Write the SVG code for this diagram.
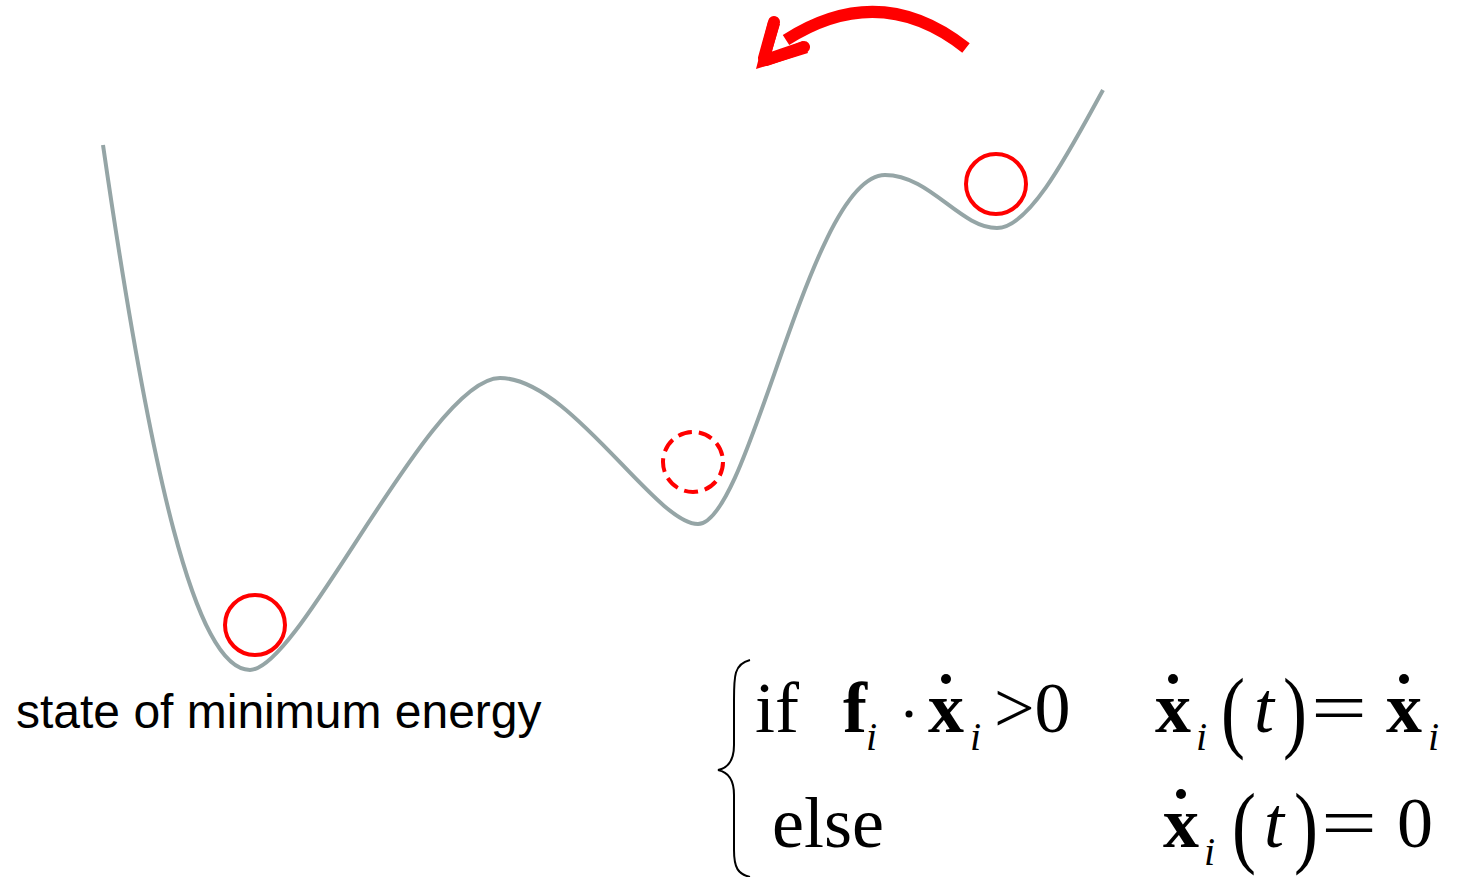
<svg xmlns="http://www.w3.org/2000/svg" width="1458" height="877" viewBox="0 0 1458 877">
<style>
.curve{fill:none;stroke:#95A5A6;stroke-width:4}
.ball{fill:none;stroke:#FF0000;stroke-width:4}
.dash{stroke-dasharray:14 7}
.lbl{font-family:"Liberation Sans",Arial,sans-serif;font-size:48px;fill:#000}
.m{font-family:"Liberation Serif","Times New Roman",serif;font-size:72px;fill:#000}
.b{font-weight:bold}
.it{font-style:italic}
.sub{font-size:40px}
.dot{fill:#000}
</style>
<rect width="1458" height="877" fill="#fff"/>
<g id="landscape">
<path class="curve" d="M103,145 C150,470 195,670 250,670 C300,670 430,378 500,378 C570,378 655,524 698,524 C750,524 810,175 885,175 C930,175 960,228 997,228 C1030,228 1070,150 1103,90"/>
</g>
<g id="ball-min"><circle class="ball" cx="255" cy="625" r="30"/></g>
<g id="ball-mid"><circle class="ball dash" cx="693" cy="462" r="30"/></g>
<g id="ball-top"><circle class="ball" cx="996" cy="184" r="30"/></g>
<g id="connectors">
<path d="M966,48 Q880,-20 786,40" fill="none" stroke="#FF0000" stroke-width="12"/>
<path d="M774,22 L764,58 M804,47 L766,60" fill="none" stroke="#FF0000" stroke-width="12" stroke-linecap="round"/>
<polygon points="756,69 768,22 780,24 771,54 803,41 808,53" fill="#FF0000"/>
</g>
<g id="label"><text class="lbl" x="16" y="728">state of minimum energy</text></g>
<g id="equation">
<path d="M750,660 C734,664 734,676 734,700 L734,745 C734,760 728,768 718,770 C728,772 734,780 734,795 L734,850 C734,868 738,874 750,877" fill="none" stroke="#000" stroke-width="2"/>
<text class="m" x="755" y="732">if</text>
<text class="m b" x="843" y="732">f</text>
<text class="m it sub" x="866" y="750">i</text>
<circle class="dot" cx="909" cy="714" r="3.5"/>
<text class="m b" x="928" y="732">x</text>
<circle class="dot" cx="946" cy="679" r="5"/>
<text class="m it sub" x="970" y="750">i</text>
<text class="m" x="994" y="732">&gt;0</text>
<text class="m b" x="1155" y="732">x</text>
<circle class="dot" cx="1173" cy="679" r="5"/>
<text class="m it sub" x="1196" y="750">i</text>
<text class="m" transform="translate(1221,741) scale(1,1.25)">(</text>
<text class="m it" x="1254" y="732">t</text>
<text class="m" transform="translate(1283,741) scale(1,1.25)">)</text>
<text class="m" x="1311" y="732" textLength="56" lengthAdjust="spacingAndGlyphs">=</text>
<text class="m b" x="1386" y="732">x</text>
<text class="m it sub" x="1428" y="750">i</text>
<circle class="dot" cx="1404" cy="679" r="5"/>
<text class="m" x="772" y="847">else</text>
<text class="m b" x="1163" y="847">x</text>
<circle class="dot" cx="1181" cy="794" r="5"/>
<text class="m it sub" x="1204" y="865">i</text>
<text class="m" transform="translate(1232,856) scale(1,1.25)">(</text>
<text class="m it" x="1264" y="847">t</text>
<text class="m" transform="translate(1294,856) scale(1,1.25)">)</text>
<text class="m" x="1321" y="847" textLength="56" lengthAdjust="spacingAndGlyphs">=</text>
<text class="m" x="1397" y="847">0</text>
</g>
</svg>
